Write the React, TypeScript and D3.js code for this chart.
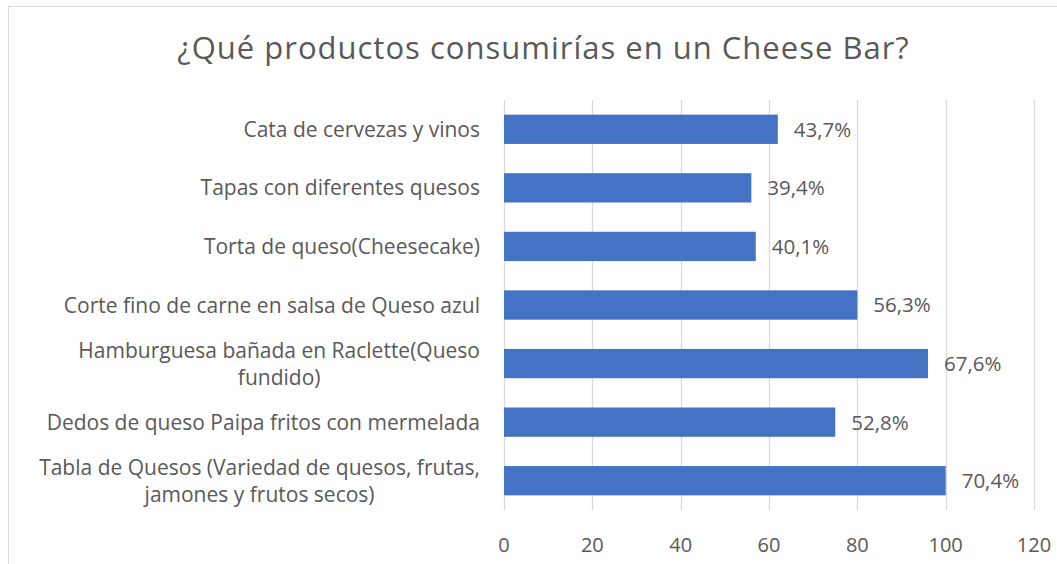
import React, { useEffect, useRef } from "react";
import * as d3 from "d3";

const categories = [
  "Cata de cervezas y vinos",
  "Tapas con diferentes quesos",
  "Torta de queso(Cheesecake)",
  "Corte fino de carne en salsa de Queso azul",
  "Hamburguesa bañada en Raclette(Queso\nfundido)",
  "Dedos de queso Paipa fritos con mermelada",
  "Tabla de Quesos (Variedad de quesos, frutas,\njamones y frutos secos)",
];
const values = [62, 56, 57, 80, 96, 75, 100];
const percentLabels = ["43,7%", "39,4%", "40,1%", "56,3%", "67,6%", "52,8%", "70,4%"];
const xTicks = [0, 20, 40, 60, 80, 100, 120];
const title = "¿Qué productos consumirías en un Cheese Bar?";

const W = 1057;
const H = 564;
const FONT = "'Open Sans', sans-serif";
const TEXT = "#595959";
const GRID = "#D9D9D9";
const BAR = "#4472C4";

export default function App() {
  const ref = useRef<SVGSVGElement>(null);

  useEffect(() => {
    const svg = d3.select(ref.current);
    svg.selectAll("*").remove();

    const left = 504, right = 1034, top = 100, bottom = 510;
    const x = d3.scaleLinear().domain([0, 120]).range([left, right]);
    const y = d3.scaleBand<number>().domain(d3.range(categories.length)).range([top, bottom]).paddingInner(0.5).paddingOuter(0.25);

    svg.append("rect").attr("x", 0).attr("y", 0).attr("width", W).attr("height", H).attr("fill", "#fff");
    // chart border
    svg.append("rect").attr("x", 8.5).attr("y", 6.5).attr("width", W + 20).attr("height", H + 20)
      .attr("fill", "none").attr("stroke", GRID).attr("stroke-width", 1);

    svg.append("text").attr("x", 543.5).attr("y", 59).attr("text-anchor", "middle")
      .attr("font-family", FONT).attr("font-size", 31).attr("letter-spacing", 1).attr("fill", TEXT).text(title);

    // gridlines
    svg.append("g").selectAll("line").data(xTicks).join("line")
      .attr("x1", (d) => Math.round(x(d)) + 0.5).attr("x2", (d) => Math.round(x(d)) + 0.5)
      .attr("y1", top).attr("y2", bottom).attr("stroke", GRID).attr("stroke-width", 1.3);

    // tick labels
    svg.append("g").selectAll("text").data(xTicks).join("text")
      .attr("x", (d) => x(d)).attr("y", 552).attr("text-anchor", "middle")
      .attr("font-family", FONT).attr("font-size", 20).attr("fill", TEXT).text((d) => String(d));

    // bars
    svg.append("g").selectAll("rect").data(values).join("rect")
      .attr("x", x(0)).attr("y", (_, i) => y(i)!).attr("width", (d) => x(d) - x(0))
      .attr("height", y.bandwidth()).attr("fill", BAR);

    // value labels
    svg.append("g").selectAll("text").data(values).join("text")
      .attr("x", (d) => x(d) + 16).attr("y", (_, i) => y(i)! + y.bandwidth() / 2)
      .attr("dy", "0.36em").attr("font-family", FONT).attr("font-size", 20.5).attr("fill", TEXT)
      .text((_, i) => percentLabels[i]);

    // category labels
    const lineH = 27;
    categories.forEach((c, i) => {
      const lines = c.split("\n");
      const cy = y(i)! + y.bandwidth() / 2;
      const g = svg.append("g");
      const texts = lines.map((ln, k) =>
        g.append("text").attr("y", cy + (k - (lines.length - 1) / 2) * lineH).attr("dy", "0.36em")
          .attr("font-family", FONT).attr("font-size", 21).attr("fill", TEXT)
          .attr("text-anchor", "middle").text(ln)
      );
      const maxW = d3.max(texts, (t) => (t.node() as SVGTextElement).getComputedTextLength()) || 0;
      texts.forEach((t) => t.attr("x", 480 - maxW / 2));
    });
  }, []);

  return <svg ref={ref} width={W} height={H} style={{ display: "block", position: "absolute", left: 0, top: 0 }} />;
}
